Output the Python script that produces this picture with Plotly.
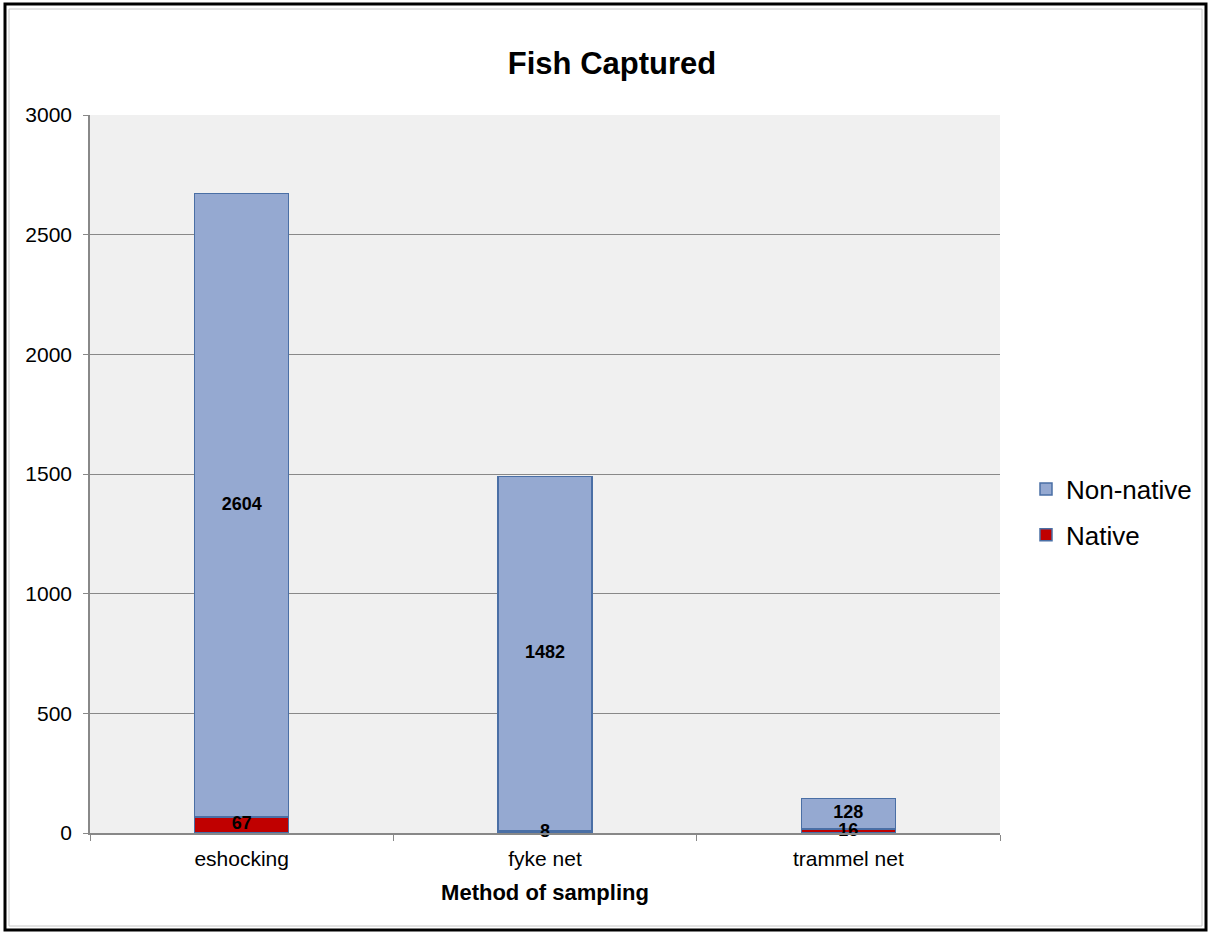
import plotly.graph_objects as go

categories = ["eshocking", "fyke net", "trammel net"]
native = [67, 8, 16]
non_native = [2604, 1482, 128]
y_ticks = [0, 500, 1000, 1500, 2000, 2500, 3000]

W, H = 1210, 933
L, R, T, B = 90, 210, 115, 100
pw, ph = W - L - R, H - T - B
FONT = "Liberation Sans, Arial, sans-serif"

fig = go.Figure()
fig.add_trace(go.Bar(x=categories, y=native, name="Native", legendgroup="a", legendrank=2,
                     marker=dict(color="#C00000", line=dict(color="#4A6FA5", width=1.5)),
                     width=0.31))
fig.add_trace(go.Bar(x=categories, y=non_native, name="Non-native", legendgroup="b", legendrank=1,
                     marker=dict(color="#95A9D1", line=dict(color="#4A6FA5", width=1.5)),
                     width=0.31))

label_font = dict(family=FONT, size=18, color="black", weight="bold")
fig.add_trace(go.Scatter(x=categories, y=[v / 2 for v in native], mode="text",
                         text=[str(v) for v in native], showlegend=False,
                         textfont=label_font, cliponaxis=False, hoverinfo="skip"))
fig.add_trace(go.Scatter(x=categories, y=[n + v / 2 for n, v in zip(native, non_native)],
                         mode="text", text=[str(v) for v in non_native], showlegend=False,
                         textfont=label_font, cliponaxis=False, hoverinfo="skip"))


def px(x):
    return (x - L) / pw


def py(y):
    return (H - B - y) / ph


fig.update_layout(
    width=W, height=H,
    margin=dict(l=L, r=R, t=T, b=B, autoexpand=False),
    barmode="stack",
    paper_bgcolor="white",
    plot_bgcolor="#F0F0F0",
    font=dict(family=FONT, size=21, color="black"),
    title=dict(text="<b>Fish Captured</b>", x=612 / W, xref="container", xanchor="center",
               y=1 - 63 / H, yref="container", yanchor="middle", font=dict(size=31)),
    legend=dict(x=px(1026), y=py(512), xanchor="left", yanchor="middle",
                traceorder="grouped", font=dict(size=26), itemwidth=30,
                tracegroupgap=9, bgcolor="rgba(0,0,0,0)"),
    xaxis=dict(title=dict(text="<b>Method of sampling</b>", font=dict(size=22), standoff=16),
               showline=True, linecolor="#888888", linewidth=1.5,
               ticks="outside", tickson="boundaries", ticklen=6, tickcolor="#888888",
               ticklabelstandoff=6,
               showgrid=False, range=[-0.5, 2.5], tickfont=dict(size=21)),
    yaxis=dict(range=[0, 3000], tickvals=y_ticks, showline=True, linecolor="#888888",
               linewidth=1.5, ticks="outside", ticklen=5, tickcolor="#888888",
               gridcolor="#888888", gridwidth=1, zeroline=False, ticklabelstandoff=7,
               tickfont=dict(size=21)),
    shapes=[
        dict(type="rect", xref="paper", yref="paper",
             x0=px(5), x1=px(1206), y0=py(4), y1=py(930),
             line=dict(color="black", width=3), fillcolor="rgba(0,0,0,0)", layer="above"),
        dict(type="rect", xref="paper", yref="paper",
             x0=px(9), x1=px(1202), y0=py(9), y1=py(926),
             line=dict(color="#C8C8C8", width=1), fillcolor="rgba(0,0,0,0)", layer="above"),
    ],
)

fig.write_html("out.html")
